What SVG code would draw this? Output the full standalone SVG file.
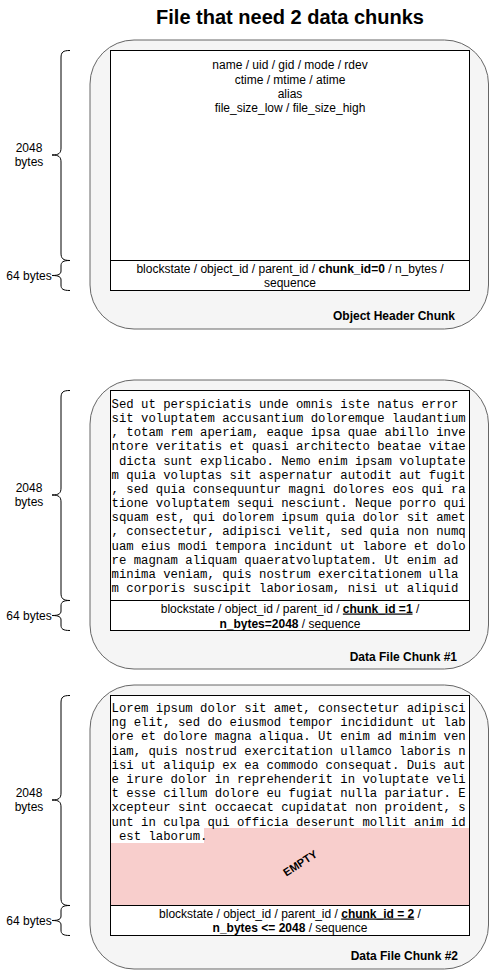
<svg xmlns="http://www.w3.org/2000/svg" width="490" height="971" viewBox="0 0 490 971">
<style>
.outer{fill:#f5f5f5;stroke:#666666;stroke-width:1}
.inner{fill:#ffffff;stroke:#000000;stroke-width:1}
.brace{fill:none;stroke:#000000;stroke-width:1}
.t{font-family:"Liberation Sans",Arial,sans-serif;font-size:12px;fill:#000000;text-anchor:middle}
.lbl{font-family:"Liberation Sans",Arial,sans-serif;font-size:12px;font-weight:bold;fill:#000000;text-anchor:end}
.mono{font-family:"Liberation Mono","Courier New",monospace;font-size:12.3px;fill:#000000;white-space:pre}
.b{font-weight:bold}
.u{text-decoration:underline}
.title{font-family:"Liberation Sans",Arial,sans-serif;font-size:20px;font-weight:bold;fill:#000000;text-anchor:middle}
</style>
<rect width="490" height="971" fill="#ffffff"/>
<text class="title" x="290" y="24">File that need 2 data chunks</text>

<g id="chunk-header">
<rect class="outer" x="90" y="40" width="398.5" height="289" rx="44" ry="44"/>
<rect class="inner" x="110.5" y="50.5" width="359" height="240"/>
<line x1="110.5" y1="260.5" x2="469.5" y2="260.5" stroke="#000" stroke-width="1"/>
<text class="t" x="290" y="69">name / uid / gid / mode / rdev</text>
<text class="t" x="290" y="84">ctime / mtime / atime</text>
<text class="t" x="290" y="98">alias</text>
<text class="t" x="290" y="112">file_size_low / file_size_high</text>
<text class="t" x="290" y="273">blockstate / object_id / parent_id / <tspan class="b">chunk_id=0</tspan> / n_bytes /</text>
<text class="t" x="290" y="287">sequence</text>
<text class="lbl" x="455" y="320">Object Header Chunk</text>
</g>

<g id="chunk-data-1">
<rect class="outer" x="90" y="380" width="398.5" height="289" rx="44" ry="44"/>
<rect class="inner" x="110.5" y="390.5" width="359" height="240"/>
<line x1="110.5" y1="600.5" x2="469.5" y2="600.5" stroke="#000" stroke-width="1"/>
<text class="mono" xml:space="preserve"><tspan x="111.5" y="408">Sed ut perspiciatis unde omnis iste natus error</tspan><tspan x="111.5" y="422.15">sit voluptatem accusantium doloremque laudantium</tspan><tspan x="111.5" y="436.3">, totam rem aperiam, eaque ipsa quae abillo inve</tspan><tspan x="111.5" y="450.45">ntore veritatis et quasi architecto beatae vitae</tspan><tspan x="111.5" y="464.6"> dicta sunt explicabo. Nemo enim ipsam voluptate</tspan><tspan x="111.5" y="478.75">m quia voluptas sit aspernatur autodit aut fugit</tspan><tspan x="111.5" y="492.9">, sed quia consequuntur magni dolores eos qui ra</tspan><tspan x="111.5" y="507.05">tione voluptatem sequi nesciunt. Neque porro qui</tspan><tspan x="111.5" y="521.2">squam est, qui dolorem ipsum quia dolor sit amet</tspan><tspan x="111.5" y="535.35">, consectetur, adipisci velit, sed quia non numq</tspan><tspan x="111.5" y="549.5">uam eius modi tempora incidunt ut labore et dolo</tspan><tspan x="111.5" y="563.65">re magnam aliquam quaeratvoluptatem. Ut enim ad</tspan><tspan x="111.5" y="577.8">minima veniam, quis nostrum exercitationem ulla</tspan><tspan x="111.5" y="591.95">m corporis suscipit laboriosam, nisi ut aliquid</tspan></text>
<text class="t" x="290" y="612.5">blockstate / object_id / parent_id / <tspan class="b u">chunk_id =1</tspan> /</text>
<text class="t" x="290" y="627.5"><tspan class="b">n_bytes=2048</tspan> / sequence</text>
<text class="lbl" x="457" y="661">Data File Chunk #1</text>
</g>

<g id="chunk-data-2">
<rect class="outer" x="90" y="685" width="398.5" height="284" rx="44" ry="44"/>
<rect class="inner" x="110.5" y="695.5" width="359" height="240"/>
<rect x="111" y="828" width="358" height="77" fill="#f8cecc"/>
<rect x="111" y="828" width="93" height="15" fill="#ffffff"/>
<line x1="110.5" y1="905.5" x2="469.5" y2="905.5" stroke="#000" stroke-width="1"/>
<text class="mono" xml:space="preserve"><tspan x="111.5" y="712">Lorem ipsum dolor sit amet, consectetur adipisci</tspan><tspan x="111.5" y="726.2">ng elit, sed do eiusmod tempor incididunt ut lab</tspan><tspan x="111.5" y="740.4">ore et dolore magna aliqua. Ut enim ad minim ven</tspan><tspan x="111.5" y="754.6">iam, quis nostrud exercitation ullamco laboris n</tspan><tspan x="111.5" y="768.8">isi ut aliquip ex ea commodo consequat. Duis aut</tspan><tspan x="111.5" y="783">e irure dolor in reprehenderit in voluptate veli</tspan><tspan x="111.5" y="797.2">t esse cillum dolore eu fugiat nulla pariatur. E</tspan><tspan x="111.5" y="811.4">xcepteur sint occaecat cupidatat non proident, s</tspan><tspan x="111.5" y="825.6">unt in culpa qui officia deserunt mollit anim id</tspan><tspan x="111.5" y="839.8"> est laborum.</tspan></text>
<text x="300" y="867" transform="rotate(-33 300 863)" style="font-family:'Liberation Sans',Arial,sans-serif;font-size:11px;font-weight:bold;text-anchor:middle">EMPTY</text>
<text class="t" x="290" y="917.5">blockstate / object_id / parent_id / <tspan class="b u">chunk_id = 2</tspan> /</text>
<text class="t" x="290" y="932"><tspan class="b">n_bytes &lt;= 2048</tspan> / sequence</text>
<text class="lbl" x="458" y="960">Data File Chunk #2</text>
</g>

<g id="braces">
<g id="brace-2048-a">
<path class="brace" d="M70,50.5 C63,50.5 61,52 61,58 V148 C61,153 59,155 52,155 C59,155 61,157 61,162 V253 C61,258.5 63,260.5 70,260.5"/>
<text class="t" x="29" y="152">2048</text>
<text class="t" x="29" y="166">bytes</text>
</g>
<g id="brace-64-a">
<path class="brace" d="M70,260.5 C63,260.5 61,262 61,266 V271 C61,274 59,275.5 52,275.5 C59,275.5 61,277 61,280 V285 C61,289 63,290.5 70,290.5"/>
<text class="t" x="29" y="280">64 bytes</text>
</g>
<g id="brace-2048-b">
<path class="brace" d="M70,390.5 C63,390.5 61,392 61,398 V488 C61,493 59,495 52,495 C59,495 61,497 61,502 V593 C61,598.5 63,600.5 70,600.5"/>
<text class="t" x="29" y="492">2048</text>
<text class="t" x="29" y="506">bytes</text>
</g>
<g id="brace-64-b">
<path class="brace" d="M70,600.5 C63,600.5 61,602 61,606 V611 C61,614 59,615.5 52,615.5 C59,615.5 61,617 61,620 V625 C61,629 63,630.5 70,630.5"/>
<text class="t" x="29" y="620">64 bytes</text>
</g>
<g id="brace-2048-c">
<path class="brace" d="M70,695.5 C63,695.5 61,697 61,703 V793 C61,798 59,800 52,800 C59,800 61,802 61,807 V898 C61,903.5 63,905.5 70,905.5"/>
<text class="t" x="29" y="797">2048</text>
<text class="t" x="29" y="811">bytes</text>
</g>
<g id="brace-64-c">
<path class="brace" d="M70,905.5 C63,905.5 61,907 61,911 V916 C61,919 59,920.5 52,920.5 C59,920.5 61,922 61,925 V930 C61,934 63,935.5 70,935.5"/>
<text class="t" x="29" y="925">64 bytes</text>
</g>
</g>
</svg>
